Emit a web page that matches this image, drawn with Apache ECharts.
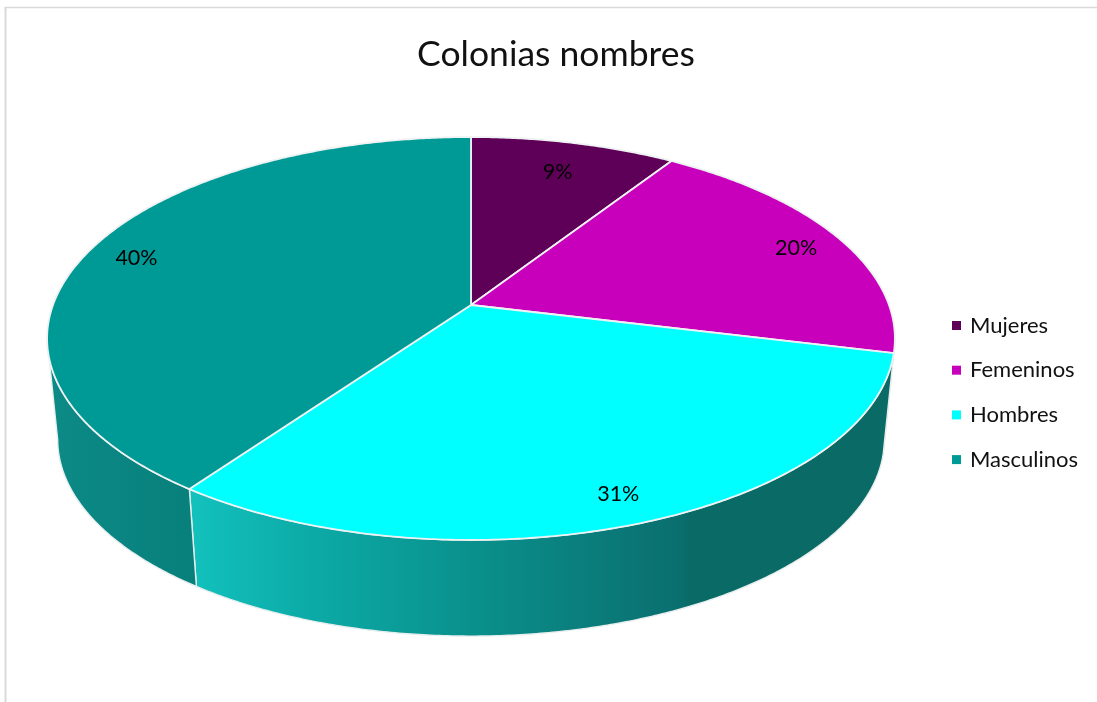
<!DOCTYPE html>
<html><head><meta charset="utf-8">
<style>html,body{margin:0;padding:0;background:#fff}#c{width:1097px;height:702px}</style>
<script src="https://cdn.jsdelivr.net/npm/echarts@6/dist/echarts.min.js"></script>
</head><body><div id="c"></div>
<script>
const categories = ['Mujeres','Femeninos','Hombres','Masculinos'];
const values = [9.2,19.6,31.1,40.1];
const topColors = ['#5f0058','#c800bc','#00ffff','#009a96'];

// perspective disc projection
const CX=471, CY=305, BOTTOM_CY=407, RX=418, RY=195.9, K=0.1663, BOTTOM_SCALE=0.975;
const LABEL_R=[0.8,0.87,0.87,0.87];
const LABEL_SHIFT=[[2,0],[4,3],[1,4],[-3,3]];
const total=values.reduce((a,b)=>a+b,0);
function proj(theta,r,low){
  const c=r*Math.cos(theta), s=r*Math.sin(theta), w=1+K*c;
  const x=RX*s/w, y=-RY*c/w;
  return low?[CX+BOTTOM_SCALE*x,BOTTOM_CY+BOTTOM_SCALE*y]:[CX+x,CY+y];
}
function arc(a0,a1,low){
  const n=Math.max(8,Math.ceil((a1-a0)*120)),p=[];
  for(let i=0;i<=n;i++)p.push(proj(a0+(a1-a0)*i/n,1,low));
  return p;
}
// the rim is visible only between the two silhouette angles of the disc
const RIM_FROM=Math.acos(-K), RIM_TO=2*Math.PI-RIM_FROM;
const sideFill=[
  '#0a6a66','#0a6a66',
  {type:'linear',x:197,y:0,x2:892,y2:0,global:true,colorStops:[
    {offset:0,color:'#12c0bc'},{offset:0.15,color:'#0caca8'},{offset:0.40,color:'#0a908c'},
    {offset:0.70,color:'#0a6e6e'},{offset:0.708,color:'#0a6a66'},{offset:1,color:'#0a6a66'}]},
  {type:'linear',x:55,y:0,x2:197,y2:0,global:true,colorStops:[
    {offset:0,color:'#0c8a86'},{offset:1,color:'#087f7b'}]}
];
let cum=0;
const series=categories.map((name,i)=>{
  const start=cum; cum+=values[i];
  return {
    type:'custom',name,coordinateSystem:'none',
    itemStyle:{color:topColors[i]},
    data:[[values[i],start]],
    renderItem(params,api){
      const a0=api.value(1)/total*2*Math.PI, a1=(api.value(1)+api.value(0))/total*2*Math.PI;
      const topArc=arc(a0,a1,false);
      const children=[];
      const r0=Math.max(a0,RIM_FROM), r1=Math.min(a1,RIM_TO);
      if(r1>r0){
        const t=arc(r0,r1,false), l=arc(r0,r1,true);
        children.push({type:'polygon',z2:1,shape:{points:t.concat(l.reverse())},
          style:{fill:sideFill[i],stroke:'#e6eeee',lineWidth:1.4}});
      }
      children.push({type:'polygon',z2:10,shape:{points:[[CX,CY]].concat(topArc)},
        style:{fill:topColors[i],stroke:'#eef2f2',lineWidth:1.8,lineJoin:'round'}});
      const mid=(a0+a1)/2, p=proj(mid,LABEL_R[i],false);
      children.push({type:'text',z2:20,x:p[0]+LABEL_SHIFT[i][0],y:p[1]+LABEL_SHIFT[i][1],
        style:{text:Math.round(api.value(0)/total*100)+'%',x:0,y:0,fill:'#000',
          font:'21.5px Lato, "Noto Sans", sans-serif',align:'center',verticalAlign:'middle'}});
      return {type:'group',children};
    }
  };
});
const chart=echarts.init(document.getElementById('c'),null,{renderer:'canvas'});
chart.setOption({
  animation:false,
  backgroundColor:'#fff',
  title:{text:'Colonias nombres',left:551,top:32,textAlign:'center',
    textStyle:{fontFamily:'Lato, "Noto Sans", sans-serif',fontSize:35.5,fontWeight:'normal',color:'#111'}},
  legend:{orient:'vertical',left:947,top:309.5,icon:'rect',itemWidth:9,itemHeight:9,itemGap:22.7,
    data:categories,selectedMode:false,
    textStyle:{fontFamily:'Lato, "Noto Sans", sans-serif',fontSize:22,color:'#111',padding:[0,0,0,4]}},
  graphic:[
    {type:'line',shape:{x1:5.5,y1:7,x2:5.5,y2:702},style:{stroke:'#d9d9d9',lineWidth:2}},
    {type:'line',shape:{x1:5,y1:7.5,x2:1097,y2:7.5},style:{stroke:'#d9d9d9',lineWidth:1.5}}
  ],
  series
});
</script></body></html>
